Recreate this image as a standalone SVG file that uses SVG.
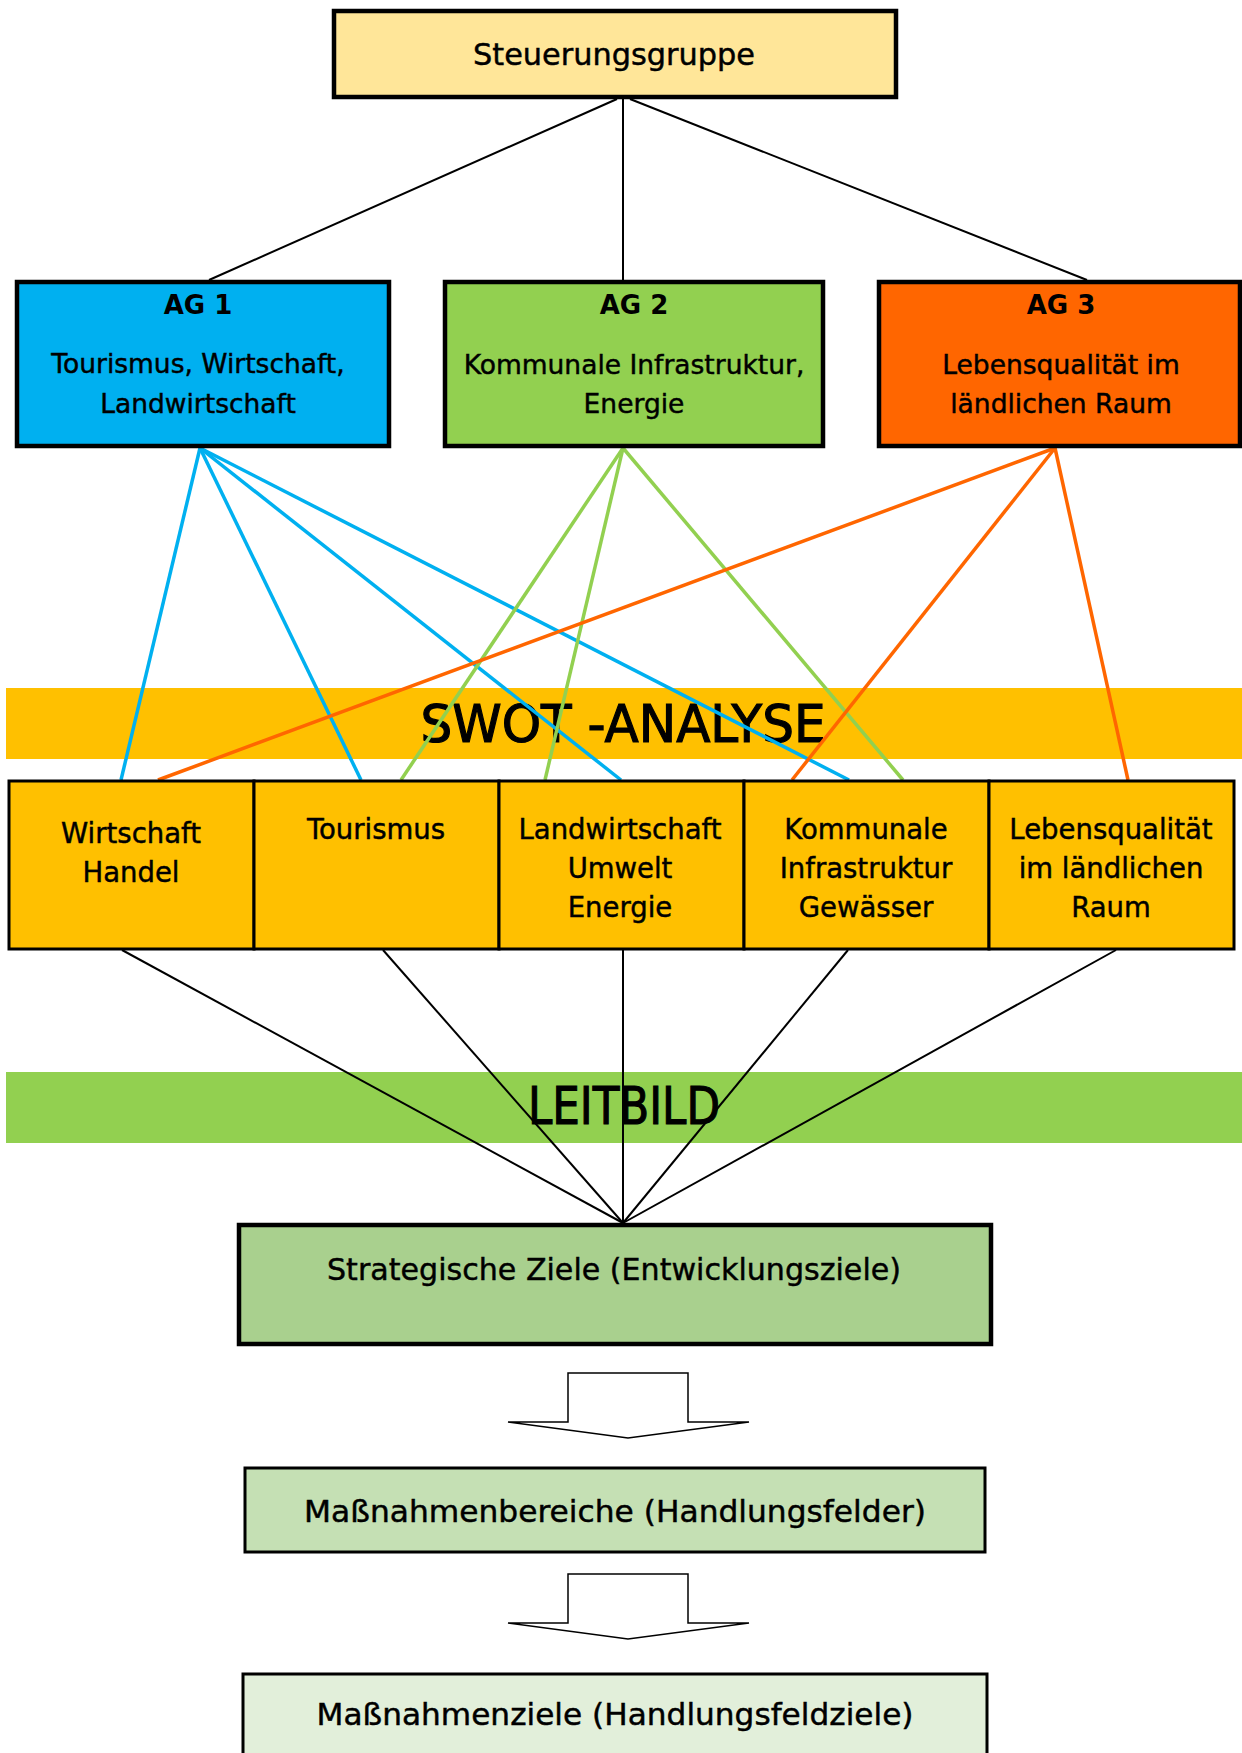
<svg xmlns="http://www.w3.org/2000/svg" width="1242" height="1753" viewBox="0 0 1242 1753">
<style>
text{font-family:"DejaVu Sans","Liberation Sans",sans-serif;fill:#000;text-anchor:middle;stroke:#000;stroke-width:0.45}
.box{stroke:#000;stroke-width:4.5}
.sw{fill:#FFC000;stroke:#000;stroke-width:3}
.t30{font-size:30px}
.t27{font-size:27.5px}
.t26{font-size:26.5px}
.ag{font-size:26px;font-weight:bold;stroke-width:0}
.band{font-size:52px;stroke-width:1.2}
.blk{stroke:#000;stroke-width:2;fill:none}
.blue{stroke:#00B0F0;stroke-width:3.5}
.green{stroke:#92D050;stroke-width:3.5}
.orange{stroke:#FF6600;stroke-width:3.5}
.arrow{fill:#fff;stroke:#000;stroke-width:1.5}
</style>
<rect width="1242" height="1753" fill="#fff"/>
<g id="swot-band">
<rect x="6" y="688" width="1236" height="71" fill="#FFC000"/>
<text class="band" x="623" y="742" textLength="405" lengthAdjust="spacingAndGlyphs">SWOT -ANALYSE</text>
</g>
<g id="leitbild-band">
<rect x="6" y="1072" width="1236" height="71" fill="#92D050"/>
<text class="band" x="624" y="1124" textLength="192" lengthAdjust="spacingAndGlyphs">LEITBILD</text>
</g>
<g id="connectors">
<line class="blk" x1="617" y1="99" x2="209" y2="280"/>
<line class="blk" x1="623" y1="99" x2="623" y2="280"/>
<line class="blk" x1="630" y1="99" x2="1087" y2="280"/>
<line class="blue" x1="200" y1="448" x2="121" y2="780"/>
<line class="blue" x1="200" y1="448" x2="361" y2="780"/>
<line class="blue" x1="200" y1="448" x2="621" y2="780"/>
<line class="blue" x1="200" y1="448" x2="849" y2="780"/>
<line class="green" x1="623" y1="448" x2="401" y2="780"/>
<line class="green" x1="623" y1="448" x2="545" y2="780"/>
<line class="green" x1="623" y1="448" x2="903" y2="780"/>
<line class="orange" x1="1055" y1="448" x2="158" y2="780"/>
<line class="orange" x1="1055" y1="448" x2="792" y2="780"/>
<line class="orange" x1="1055" y1="448" x2="1128" y2="780"/>
<line class="blk" x1="122" y1="950" x2="623" y2="1223"/>
<line class="blk" x1="383" y1="950" x2="623" y2="1223"/>
<line class="blk" x1="623" y1="950" x2="623" y2="1223"/>
<line class="blk" x1="848" y1="950" x2="623" y2="1223"/>
<line class="blk" x1="1116" y1="950" x2="623" y2="1223"/>
<polygon class="arrow" points="568,1373 688,1373 688,1422 749,1422 628,1438 508,1422 568,1422"/>
<polygon class="arrow" points="568,1574 688,1574 688,1623 749,1623 628,1639 508,1623 568,1623"/>
</g>
<g id="steuerungsgruppe">
<rect class="box" x="334" y="11" width="562" height="86" fill="#FFE699"/>
<text class="t30" x="614" y="65" textLength="282" lengthAdjust="spacingAndGlyphs">Steuerungsgruppe</text>
</g>
<g id="ag1">
<rect class="box" x="17" y="282" width="372" height="164" fill="#00B0F0"/>
<text class="ag" x="198" y="314">AG 1</text>
<text class="t26" x="198" y="373">Tourismus, Wirtschaft,</text>
<text class="t26" x="198" y="413">Landwirtschaft</text>
</g>
<g id="ag2">
<rect class="box" x="445" y="282" width="378" height="164" fill="#92D050"/>
<text class="ag" x="634" y="314">AG 2</text>
<text class="t26" x="634" y="374">Kommunale Infrastruktur,</text>
<text class="t26" x="634" y="413">Energie</text>
</g>
<g id="ag3">
<rect class="box" x="879" y="282" width="361" height="164" fill="#FF6600"/>
<text class="ag" x="1061" y="314">AG 3</text>
<text class="t26" x="1061" y="374">Lebensqualität im</text>
<text class="t26" x="1061" y="413">ländlichen Raum</text>
</g>
<g id="swot-wirtschaft">
<rect class="sw" x="9" y="781" width="245" height="168"/>
<text class="t27" x="131" y="843">Wirtschaft</text>
<text class="t27" x="131" y="882">Handel</text>
</g>
<g id="swot-tourismus">
<rect class="sw" x="254" y="781" width="245" height="168"/>
<text class="t27" x="376" y="839">Tourismus</text>
</g>
<g id="swot-landwirtschaft">
<rect class="sw" x="499" y="781" width="245" height="168"/>
<text class="t27" x="620" y="839">Landwirtschaft</text>
<text class="t27" x="620" y="878">Umwelt</text>
<text class="t27" x="620" y="917">Energie</text>
</g>
<g id="swot-kommunale">
<rect class="sw" x="744" y="781" width="245" height="168"/>
<text class="t27" x="866" y="839">Kommunale</text>
<text class="t27" x="866" y="878">Infrastruktur</text>
<text class="t27" x="866" y="917">Gewässer</text>
</g>
<g id="swot-lebensqualitaet">
<rect class="sw" x="989" y="781" width="245" height="168"/>
<text class="t27" x="1111" y="839">Lebensqualität</text>
<text class="t27" x="1111" y="878">im ländlichen</text>
<text class="t27" x="1111" y="917">Raum</text>
</g>
<g id="strategische-ziele">
<rect class="box" x="239" y="1225" width="752" height="119" fill="#A9D08E"/>
<text class="t30" x="614" y="1280" textLength="574" lengthAdjust="spacingAndGlyphs">Strategische Ziele (Entwicklungsziele)</text>
</g>
<g id="massnahmenbereiche">
<rect x="245" y="1468" width="740" height="84" fill="#C5E0B4" stroke="#000" stroke-width="3"/>
<text class="t30" x="615" y="1522" textLength="622" lengthAdjust="spacingAndGlyphs">Maßnahmenbereiche (Handlungsfelder)</text>
</g>
<g id="massnahmenziele">
<rect x="243" y="1674" width="744" height="100" fill="#E2EFDA" stroke="#000" stroke-width="3"/>
<text class="t30" x="615" y="1725" textLength="597" lengthAdjust="spacingAndGlyphs">Maßnahmenziele (Handlungsfeldziele)</text>
</g>
</svg>
